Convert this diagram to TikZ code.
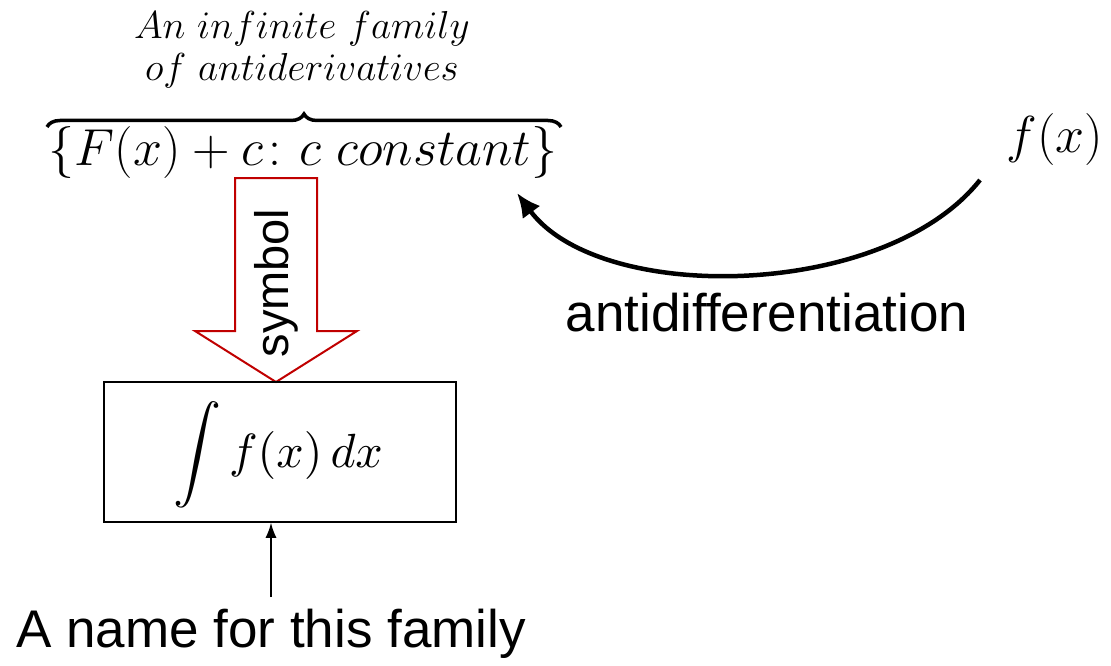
\RequirePackage{fix-cm}
\documentclass[tikz,border=0pt]{standalone}
\usepackage{fontspec}
\usepackage{amsmath}
\usepackage{graphicx}
\usetikzlibrary{arrows.meta,decorations.pathreplacing,calc}
\newfontfamily\arialf{Liberation Sans}
\definecolor{arrowred}{HTML}{C00000}
\tikzset{
  sanslbl/.style={font=\arialf\fontsize{53}{60}\selectfont, inner sep=0pt},
  mathlbl/.style={font=\fontsize{52}{60}\selectfont, inner sep=0pt},
  notelbl/.style={font=\fontsize{39}{48}\selectfont, inner sep=0pt, align=center},
  namebox/.style={draw, line width=1.5pt, minimum width=352pt, minimum height=140pt, inner sep=0pt},
  redarrow/.style={draw=arrowred, line width=2pt, line join=miter},
  bigarrow/.style={line width=4.5pt, -{Latex[length=24pt,width=22pt]}},
  smallarrow/.style={line width=1.5pt, -{Latex[length=15pt,width=11pt]}},
  bracestyle/.style={decorate, decoration={brace, amplitude=13pt}, line width=3.5pt}
}
\begin{document}
\begin{tikzpicture}[x=1pt,y=-1pt]
\useasboundingbox (0,0) rectangle (1111,666);
% top note
\node[notelbl] (note) at (302,50) {$An\ infinite\ family$\\[-6pt]$of\ antiderivatives$};
% set
\node[mathlbl] (set) at (303,152) {$\{F(x)+c\colon c\ constant\}$};
\draw[bracestyle] (47,127) -- (561,127);
% f(x)
\node[mathlbl] (fx) at (1055,140) {$f(x)$};
% curved arrow
\coordinate (cs) at (980,180);
\coordinate (ce) at (517,193);
\draw[bigarrow] (cs) .. controls (885,300) and (600,305) .. (ce);
\node[sanslbl] (anti) at (767,313) {antidifferentiation};
% red block arrow
\draw[redarrow] (235,178) -- (317,178) -- (317,331) -- (357,331) -- (276,382) -- (195,331) -- (235,331) -- cycle;
\node[sanslbl, font=\arialf\fontsize{47}{54}\selectfont, rotate=90] (sym) at (276,283) {symbol};
% box
\node[namebox] (box) at (280,452) {};
\node[inner sep=0pt] (integ) at (278,455) {\scalebox{4.8}{$\displaystyle\int f(x)\,dx$}};
% name label
\node[sanslbl] (name) at (271,634) {A name for this family};
\draw[smallarrow] (271,597) -- (box.south -| name.north);
\end{tikzpicture}
\end{document}
